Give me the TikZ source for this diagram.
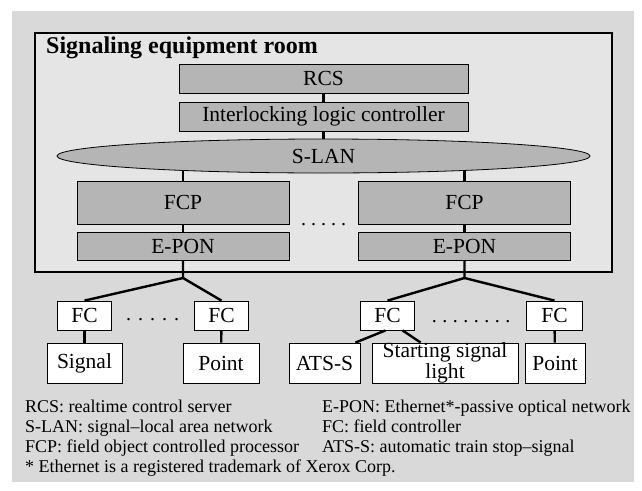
\documentclass[tikz,border=0pt]{standalone}
\usepackage{fontspec}
\setmainfont{Liberation Serif}
\usetikzlibrary{shapes.geometric}

\definecolor{bggray}{gray}{0.85}
\definecolor{roomgray}{gray}{0.9}
\definecolor{boxgray}{gray}{0.71}

\begin{document}
\begin{tikzpicture}[x=1pt,y=-1pt,
    graybox/.style={draw, fill=boxgray, line width=0.8pt, inner sep=0pt, font=\fontsize{21.5}{22}\selectfont},
    whitebox/.style={draw, fill=white, line width=0.8pt, inner sep=0pt, align=center, font=\fontsize{21.5}{18}\selectfont},
    link/.style={line width=2.4pt, line join=round},
    dotrow/.style={anchor=base, inner sep=0pt, font=\fontsize{20}{20}\selectfont},
    note/.style={anchor=base west, inner sep=0pt, font=\fontsize{18}{20}\selectfont}]
      \useasboundingbox (0,0) rectangle (642,490);
      \fill[bggray] (12,11) rectangle (634,482);
      \draw[fill=roomgray, line width=1.2pt] (35,33) rectangle (612,272);
      \node[anchor=base west, inner sep=0pt, font=\fontsize{24}{26}\selectfont\bfseries] (title) at (46,53) {Signaling equipment room};

      \coordinate (lanmid) at (323.5,156);
      \coordinate (j1) at (183,278);
      \coordinate (j2) at (464.5,278);

      \node[graybox, minimum width=289, minimum height=29] (rcs) at (323.5,78.5) {RCS};
      \node[graybox, minimum width=289, minimum height=29] (ilc) at (323.5,116.5) {Interlocking logic controller};
      \node[graybox, minimum width=212, minimum height=43] (fcp1) at (183,202.5) {FCP};
      \node[graybox, minimum width=212, minimum height=43] (fcp2) at (464.5,202.5) {FCP};
      \node[graybox, minimum width=212, minimum height=28] (epon1) at (183,246) {E-PON};
      \node[graybox, minimum width=212, minimum height=28] (epon2) at (464.5,246) {E-PON};

      \draw[link] (rcs)--(ilc);
      \draw[link] (ilc.south)--(lanmid);
      \draw[link] (fcp1.north)--(fcp1.north |- lanmid);
      \draw[link] (fcp2.north)--(fcp2.north |- lanmid);
      \draw[link] (fcp1)--(epon1);
      \draw[link] (fcp2)--(epon2);

      \node[graybox, ellipse, minimum width=533, minimum height=34] (slan) at (lanmid) {S-LAN};
      \node[dotrow] (dots1) at (323.5,225) {.\hspace{5pt}.\hspace{5pt}.\hspace{5pt}.\hspace{5pt}.};

      \node[whitebox, minimum width=54, minimum height=29] (fc1) at (84.5,315.5) {FC};
      \node[whitebox, minimum width=54, minimum height=29] (fc2) at (221.5,315.5) {FC};
      \node[whitebox, minimum width=54, minimum height=29] (fc3) at (387.5,315.5) {FC};
      \node[whitebox, minimum width=56, minimum height=29] (fc4) at (554.5,315.5) {FC};
      \node[dotrow] (dots2) at (152.5,320) {.\hspace{7pt}.\hspace{7pt}.\hspace{7pt}.\hspace{7pt}.};
      \node[dotrow] (dots3) at (471,322) {.\hspace{5.5pt}.\hspace{5.5pt}.\hspace{5.5pt}.\hspace{5.5pt}.\hspace{5.5pt}.\hspace{5.5pt}.\hspace{5.5pt}.};

      \node[whitebox, minimum width=75, minimum height=40] (sig) at (84.5,363) {Signal};
      \node[whitebox, minimum width=76, minimum height=40] (pt1) at (221,363) {Point};
      \node[whitebox, minimum width=71, minimum height=40] (ats) at (324.5,363) {ATS-S};
      \node[whitebox, minimum width=146, minimum height=40] (ssl) at (445,363) {Starting signal\\light};
      \node[whitebox, minimum width=60, minimum height=40] (pt2) at (555,363) {Point};

      \draw[link] (epon1.south)--(j1)--(fc1.north);
      \draw[link] (j1)--(fc2.north);
      \draw[link] (epon2.south)--(j2)--(fc3.north);
      \draw[link] (j2)--(fc4.north);
      \draw[link] (fc1)--(sig);
      \draw[link] (fc2)--(pt1);
      \draw[link] (fc4)--(pt2);
      \draw[link] ([xshift=-2]fc3.south)--([xshift=-5]ats.north east);
      \draw[link] ([xshift=15]fc3.south)--([xshift=49]ssl.north west);

      \node[note] (n1) at (25,412) {RCS: realtime control server};
      \node[note] (n2) at (25,432) {S-LAN: signal--local area network};
      \node[note] (n3) at (25,452) {FCP: field object controlled processor};
      \node[note] (n4) at (25,472) {* Ethernet is a registered trademark of Xerox Corp.};
      \node[note] (n5) at (322,412) {E-PON: Ethernet*-passive optical network};
      \node[note] (n6) at (322,432) {FC: field controller};
      \node[note] (n7) at (322,452) {ATS-S: automatic train stop--signal};
    \end{tikzpicture}
\end{document}
